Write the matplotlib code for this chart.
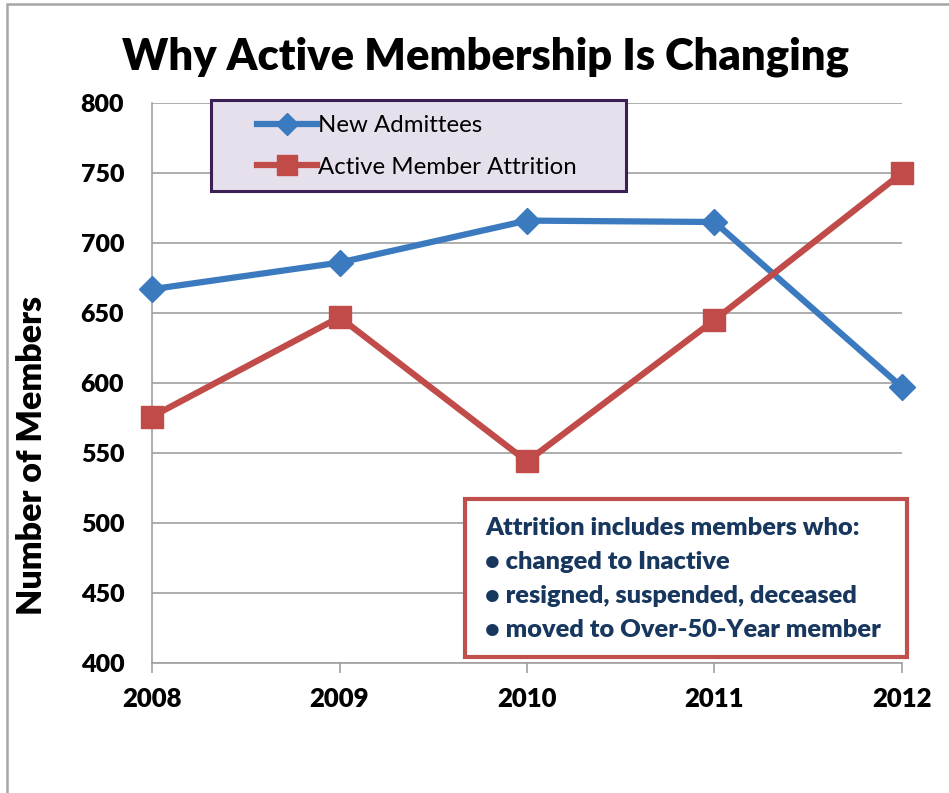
import matplotlib
matplotlib.use("Agg")
import matplotlib.pyplot as plt
from matplotlib.patches import Rectangle
from matplotlib.lines import Line2D

years = ["2008", "2009", "2010", "2011", "2012"]
new_admittees = [667, 686, 716, 715, 597]
attrition = [576, 647, 544, 645, 750]
yticks = [400, 450, 500, 550, 600, 650, 700, 750, 800]
series_names = ["New Admittees", "Active Member Attrition"]
note_lines = ["Attrition includes members who:",
              "\u2022 changed to Inactive",
              "\u2022 resigned, suspended, deceased",
              "\u2022 moved to Over-50-Year member"]

plt.rcParams['font.family'] = ['Lato', 'DejaVu Sans']
BW = 'heavy'

W, H = 949, 793
fig = plt.figure(figsize=(W / 100, H / 100), dpi=100)
fig.patch.set_facecolor('white')

def fx(px):
    return px / W

def fy(py):
    return 1 - py / H

# outer frame
fig.add_artist(Rectangle((fx(7), fy(900)), fx(1000), (900 - 4) / H, transform=fig.transFigure,
                         fill=False, edgecolor='#A6A6A6', linewidth=1.8, zorder=0))

ax = fig.add_axes([fx(152), fy(663), fx(902 - 152), (663 - 103) / H])
x = list(range(len(years)))
blue = '#3C7AC0'
red = '#C04B48'
ax.plot(x, new_admittees, color=blue, linewidth=4.5, marker='D', markersize=13,
        markerfacecolor=blue, markeredgecolor=blue, zorder=3, clip_on=False)
ax.plot(x, attrition, color=red, linewidth=4.5, marker='s', markersize=16.5,
        markerfacecolor=red, markeredgecolor=red, zorder=3, clip_on=False)

ax.set_xlim(0, len(years) - 1)
ax.set_ylim(400, 800)
ax.set_yticks(yticks)
ax.set_xticks(x)
ax.set_xticklabels(years)
ax.yaxis.grid(True, color='#A0A0A0', linewidth=1.2)
ax.set_axisbelow(True)
for s in ['top', 'right']:
    ax.spines[s].set_visible(False)
for s in ['left', 'bottom']:
    ax.spines[s].set_color('#A0A0A0')
    ax.spines[s].set_linewidth(1.2)
ax.tick_params(axis='y', length=0, pad=20, labelsize=18)
ax.tick_params(axis='x', length=7, width=1.2, color='#A0A0A0', pad=10, labelsize=18.5)
for lab in ax.get_xticklabels() + ax.get_yticklabels():
    lab.set_fontweight(BW)

ax.set_ylabel("Number of Members", fontsize=24.5, fontweight=BW)
ax.yaxis.set_label_coords((48 - 152) / 750, 0.37)

fig.text(fx(485), fy(57), "Why Active Membership Is Changing", ha='center', va='center',
         fontsize=31.3, fontweight=BW)

# legend box
fig.add_artist(Rectangle((fx(211), fy(191)), fx(626 - 211), (191 - 100) / H,
                         transform=fig.transFigure, facecolor='#E6E0EC',
                         edgecolor='#3B1F55', linewidth=2.2, zorder=5))
handles = [Line2D([], [], color=blue, linewidth=4.5, marker='D', markersize=11),
           Line2D([], [], color=red, linewidth=4.5, marker='s', markersize=14)]
leg = fig.legend(handles, series_names, loc='upper left',
                 bbox_to_anchor=(fx(250), fy(108)), frameon=False,
                 fontsize=17.3, handlelength=2.5, handletextpad=0.05,
                 labelspacing=0.85, borderpad=0.3, borderaxespad=0)
leg.set_zorder(6)

# note box
fig.add_artist(Rectangle((fx(465), fy(657)), fx(907 - 465), (657 - 499) / H,
                         transform=fig.transFigure, facecolor='white',
                         edgecolor='#C0504D', linewidth=3, zorder=5))
ys = [528, 562, 596, 630]
for t, yy in zip(note_lines, ys):
    fig.text(fx(485), fy(yy), t, ha='left', va='center', fontsize=18.3,
             fontweight=BW, color='#17375E', zorder=6)

fig.savefig("out.png", dpi=100)
